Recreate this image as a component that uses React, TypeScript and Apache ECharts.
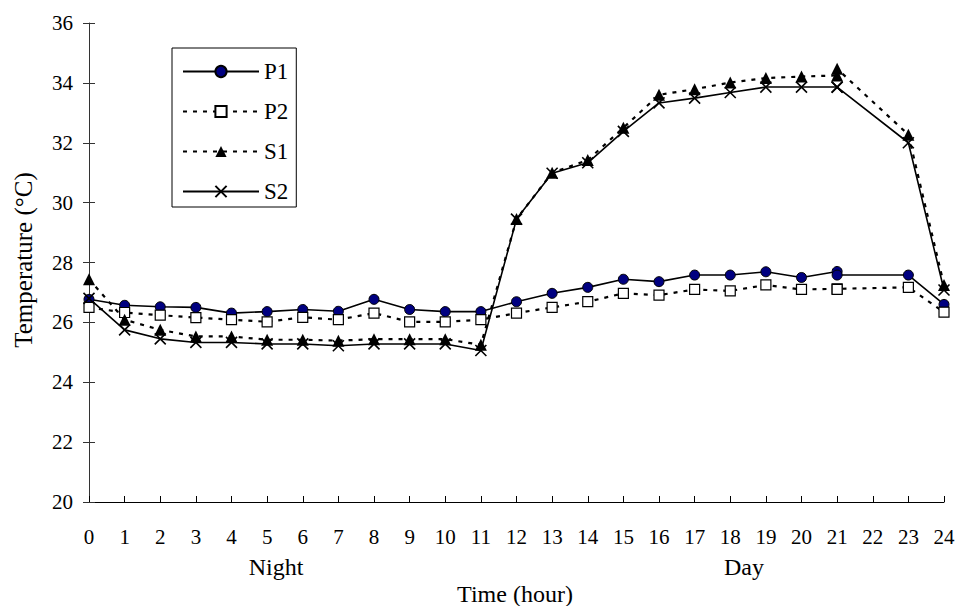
import React, { useEffect, useRef } from "react";
import * as echarts from "echarts";

// hour of each reading (two readings plotted at 21, none at 22)
const hours = [0, 1, 2, 3, 4, 5, 6, 7, 8, 9, 10, 11, 12, 13, 14, 15, 16, 17, 18, 19, 20, 21, 21, 23, 24];

const P1 = [26.77, 26.57, 26.52, 26.5, 26.31, 26.36, 26.43, 26.37, 26.77, 26.43, 26.36, 26.36,
  26.69, 26.97, 27.17, 27.44, 27.36, 27.58, 27.58, 27.69, 27.5, 27.7, 27.58, 27.58, 26.6];
const P2 = [26.5, 26.33, 26.24, 26.16, 26.09, 26.02, 26.17, 26.09, 26.31, 26.02, 26.02, 26.09,
  26.31, 26.5, 26.69, 26.97, 26.91, 27.1, 27.05, 27.25, 27.1, 27.12, 27.1, 27.17, 26.34];
const S1 = [27.44, 26.09, 25.75, 25.53, 25.53, 25.42, 25.42, 25.39, 25.44, 25.44, 25.44, 25.25,
  29.45, 31.0, 31.42, 32.5, 33.6, 33.79, 34.01, 34.16, 34.21, 34.25, 34.47, 32.27, 27.25];
const S2 = [26.8, 25.75, 25.45, 25.33, 25.33, 25.28, 25.28, 25.22, 25.28, 25.28, 25.28, 25.06,
  29.45, 30.98, 31.33, 32.38, 33.33, 33.49, 33.68, 33.86, 33.86, 33.86, 33.86, 32.0, 27.08];

const seriesNames = ["P1", "P2", "S1", "S2"];
const periodLabels = ["Night", "Day"];
const xTitle = "Time (hour)";
const yTitle = "Temperature (°C)";

const FONT = '"Liberation Serif", "Times New Roman", serif';

export default function App() {
  const ref = useRef<HTMLDivElement>(null);
  useEffect(() => {
    const chart = echarts.init(ref.current!, null, { renderer: "svg" });
    const pairs = (v: number[]) => hours.map((h, i) => [h, v[i]]);
    const solid = { color: "#000", width: 1.6, type: "solid" };
    const dotted = { color: "#000", width: 2.2, type: [4, 6] };
    const txt = (text: string, x: number, y: number, size: number, extra: any = {}) => ({
      type: "text",
      x,
      y,
      ...extra,
      style: { text, fontFamily: FONT, fontSize: size, fill: "#000", align: "center", verticalAlign: "middle" },
    });
    chart.setOption({
      animation: false,
      backgroundColor: "#fff",
      textStyle: { fontFamily: FONT, color: "#000" },
      grid: { left: 89, right: 14, top: 23, bottom: 104 },
      xAxis: {
        type: "value",
        min: 0,
        max: 24,
        interval: 1,
        axisLine: { lineStyle: { color: "#000", width: 1 } },
        axisTick: { inside: true, length: 6, lineStyle: { color: "#000" } },
        axisLabel: { fontFamily: FONT, fontSize: 21, color: "#000", margin: 24 },
        splitLine: { show: false },
      },
      yAxis: [
        {
          type: "value",
          position: "left",
          min: 20,
          max: 36,
          interval: 2,
          axisLine: { show: true, lineStyle: { color: "#333", width: 1 } },
          axisTick: { show: true, inside: false, length: 6, lineStyle: { color: "#333" } },
          axisLabel: { fontFamily: FONT, fontSize: 21, color: "#000", margin: 16 },
          splitLine: { show: false },
        },
        {
          type: "value",
          position: "left",
          min: 20,
          max: 36,
          interval: 2,
          axisLine: { show: false },
          axisTick: { show: true, inside: true, length: 6, lineStyle: { color: "#333" } },
          axisLabel: { show: false },
          splitLine: { show: false },
        },
      ],
      legend: {
        orient: "vertical",
        left: 172,
        top: 48,
        itemWidth: 76,
        itemHeight: 14,
        itemGap: 17,
        padding: [12, 8, 4, 10],
        borderColor: "#000",
        borderWidth: 1,
        selectedMode: false,
        textStyle: { fontFamily: FONT, fontSize: 23, color: "#000" },
        data: seriesNames,
      },
      series: [
        {
          name: seriesNames[0],
          type: "line",
          data: pairs(P1),
          symbol: "circle",
          symbolSize: 10,
          itemStyle: { color: "#000080", borderColor: "#000", borderWidth: 1 },
          lineStyle: solid,
        },
        {
          name: seriesNames[1],
          type: "line",
          data: pairs(P2),
          symbol: "rect",
          symbolSize: 10,
          itemStyle: { color: "#fff", borderColor: "#000", borderWidth: 1.2 },
          lineStyle: dotted,
        },
        {
          name: seriesNames[2],
          type: "line",
          data: pairs(S1),
          symbol: "triangle",
          symbolSize: 12,
          itemStyle: { color: "#000", borderColor: "#000", borderWidth: 0 },
          lineStyle: dotted,
        },
        {
          name: seriesNames[3],
          type: "line",
          data: pairs(S2),
          symbol: "path://M0,0L10,10M10,0L0,10",
          symbolSize: 11,
          itemStyle: { color: "#000", borderColor: "#000", borderWidth: 1.6 },
          lineStyle: solid,
        },
      ],
      graphic: [
        txt(periodLabels[0], 276, 567, 24),
        txt(periodLabels[1], 744, 567, 24),
        txt(xTitle, 515, 594, 24),
        txt(yTitle, 23, 260, 25, { rotation: Math.PI / 2 }),
      ],
    });
    return () => chart.dispose();
  }, []);
  return (
    <div
      ref={ref}
      style={{ position: "fixed", left: 0, top: 0, width: 958, height: 606 }}
    />
  );
}
